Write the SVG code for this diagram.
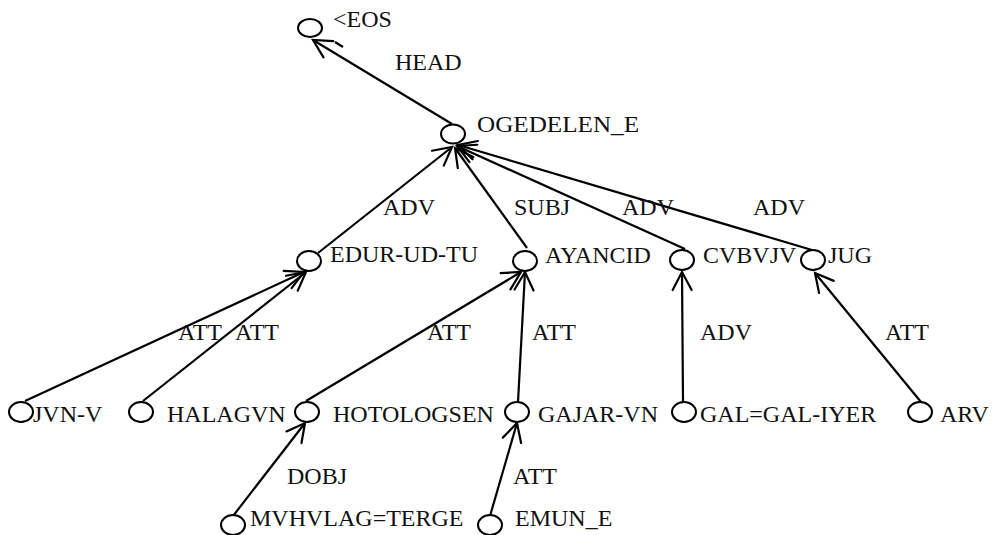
<svg xmlns="http://www.w3.org/2000/svg" width="992" height="535" viewBox="0 0 992 535">
  <style>
    .node ellipse { fill: #fff; stroke: #000; stroke-width: 2; }
    .lbl { font-family: "Liberation Serif", "Times New Roman", serif; font-size: 24px; fill: #111; }
    .edges line { stroke: #000; stroke-width: 2.2; fill: none; }
  </style>
  <defs>
    <marker id="arrow" markerUnits="userSpaceOnUse" orient="auto" markerWidth="26" markerHeight="26" viewBox="-22 -13 26 26" refX="0" refY="0" overflow="visible">
      <path d="M -18,-9.5 L 0,0 L -18,9.5" fill="none" stroke="#000" stroke-width="2.2" stroke-linecap="round"/>
    </marker>
  </defs>
  <rect width="992" height="535" fill="#fff"/>

  <!-- dependency arcs: child to head -->
  <g id="edges" class="edges">
    <line x1="452" y1="124" x2="313" y2="40" marker-end="url(#arrow)"/>
    <line x1="335" y1="42" x2="343" y2="47"/>
    <line x1="318" y1="253" x2="452" y2="147" marker-end="url(#arrow)"/>
    <line x1="527" y1="248" x2="455" y2="148" marker-end="url(#arrow)"/>
    <line x1="685" y1="249" x2="457" y2="146" marker-end="url(#arrow)"/>
    <line x1="812" y1="250" x2="458" y2="145" marker-end="url(#arrow)"/>
    <line x1="25" y1="401" x2="304" y2="272" marker-end="url(#arrow)"/>
    <line x1="143" y1="401" x2="306" y2="272" marker-end="url(#arrow)"/>
    <line x1="306" y1="401" x2="521" y2="272" marker-end="url(#arrow)"/>
    <line x1="518" y1="402" x2="525" y2="272" marker-end="url(#arrow)"/>
    <line x1="683" y1="402" x2="682" y2="272" marker-end="url(#arrow)"/>
    <line x1="921" y1="402" x2="815" y2="273" marker-end="url(#arrow)"/>
    <line x1="233" y1="516" x2="305" y2="423" marker-end="url(#arrow)"/>
    <line x1="490" y1="516" x2="517" y2="423" marker-end="url(#arrow)"/>
  </g>

  <!-- arc labels -->
  <g id="edge-labels">
    <text class="lbl" x="395" y="70">HEAD</text>
    <text class="lbl" x="383" y="215">ADV</text>
    <text class="lbl" x="514" y="215">SUBJ</text>
    <text class="lbl" x="622" y="215">ADV</text>
    <text class="lbl" x="753" y="215">ADV</text>
    <text class="lbl" x="178" y="340">ATT</text>
    <text class="lbl" x="235" y="340">ATT</text>
    <text class="lbl" x="427" y="340">ATT</text>
    <text class="lbl" x="532" y="340">ATT</text>
    <text class="lbl" x="700" y="340">ADV</text>
    <text class="lbl" x="885" y="340">ATT</text>
    <text class="lbl" x="287" y="484">DOBJ</text>
    <text class="lbl" x="513" y="484">ATT</text>
  </g>

  <!-- tokens -->
  <g id="n-eos" class="node"><ellipse cx="310" cy="28" rx="12" ry="9"/><text class="lbl" x="333" y="27">&lt;EOS</text></g>
  <g id="n-ogedelen" class="node"><ellipse cx="453" cy="134" rx="12" ry="9.5"/><text class="lbl" x="477" y="132" textLength="162" lengthAdjust="spacingAndGlyphs">OGEDELEN_E</text></g>
  <g id="n-edur" class="node"><ellipse cx="309" cy="261" rx="12" ry="10"/><text class="lbl" x="330" y="262">EDUR-UD-TU</text></g>
  <g id="n-ayancid" class="node"><ellipse cx="525" cy="261" rx="12" ry="10"/><text class="lbl" x="545" y="263">AYANCID</text></g>
  <g id="n-cvbvjv" class="node"><ellipse cx="682" cy="260" rx="12" ry="10"/><text class="lbl" x="703" y="263">CVBVJV</text></g>
  <g id="n-jug" class="node"><ellipse cx="813" cy="260" rx="12" ry="10"/><text class="lbl" x="828" y="263">JUG</text></g>
  <g id="n-jvnv" class="node"><ellipse cx="21" cy="412" rx="12" ry="10"/><text class="lbl" x="33" y="422">JVN-V</text></g>
  <g id="n-halagvn" class="node"><ellipse cx="141" cy="412" rx="12" ry="10"/><text class="lbl" x="167" y="422">HALAGVN</text></g>
  <g id="n-hotologsen" class="node"><ellipse cx="307" cy="412" rx="12" ry="10"/><text class="lbl" x="333" y="422">HOTOLOGSEN</text></g>
  <g id="n-gajarvn" class="node"><ellipse cx="517" cy="412" rx="12" ry="10"/><text class="lbl" x="538" y="422">GAJAR-VN</text></g>
  <g id="n-galiyer" class="node"><ellipse cx="684" cy="412" rx="12" ry="10"/><text class="lbl" x="700" y="422">GAL=GAL-IYER</text></g>
  <g id="n-arv" class="node"><ellipse cx="920" cy="412" rx="12" ry="10"/><text class="lbl" x="940" y="422">ARV</text></g>
  <g id="n-mvhvlag" class="node"><ellipse cx="233" cy="525" rx="12" ry="10"/><text class="lbl" x="250" y="526">MVHVLAG=TERGE</text></g>
  <g id="n-emun" class="node"><ellipse cx="490" cy="525" rx="12" ry="10"/><text class="lbl" x="515" y="526">EMUN_E</text></g>
</svg>
